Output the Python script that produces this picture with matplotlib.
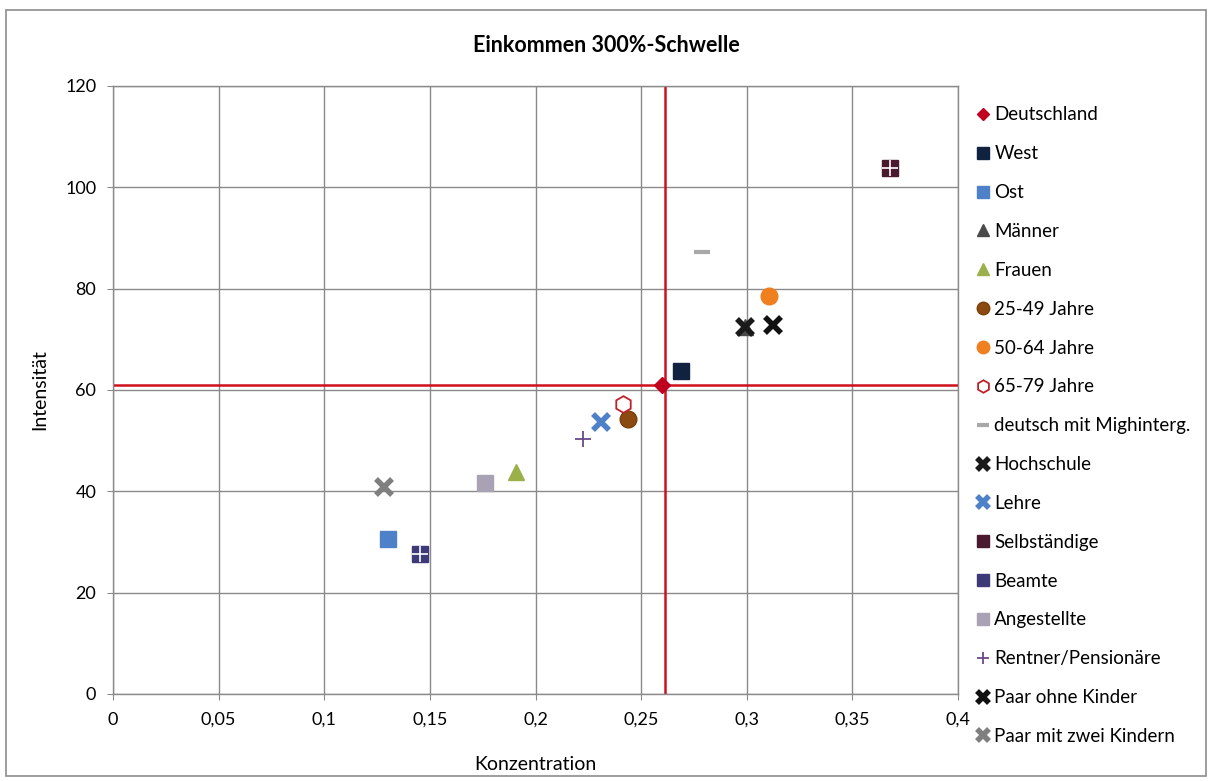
import matplotlib
matplotlib.use("Agg")
import matplotlib.pyplot as plt
from matplotlib.patches import Rectangle
from matplotlib.ticker import FixedLocator, FuncFormatter

plt.rcParams['font.family'] = ['Lato', 'DejaVu Sans']

labels = ["Deutschland", "West", "Ost", "Männer", "Frauen", "25-49 Jahre", "50-64 Jahre",
          "65-79 Jahre", "deutsch mit Mighinterg.", "Hochschule", "Lehre", "Selbständige",
          "Beamte", "Angestellte", "Rentner/Pensionäre", "Paar ohne Kinder", "Paar mit zwei Kindern"]
konzentration = [0.260, 0.269, 0.130, 0.299, 0.191, 0.244, 0.3105, 0.2415, 0.279, 0.2994,
                 0.2308, 0.3678, 0.1453, 0.1761, 0.2225, 0.3124, 0.1283]
intensitaet = [60.9, 63.7, 30.6, 72.4, 43.8, 54.2, 78.5, 57.3, 87.2, 72.4,
               53.6, 103.8, 27.7, 41.7, 50.4, 72.8, 40.9]
ref_x = 0.2615
ref_y = 60.9
x_ticks = [0, 0.05, 0.1, 0.15, 0.2, 0.25, 0.3, 0.35, 0.4]
y_ticks = [0, 20, 40, 60, 80, 100, 120]

styles = [
    dict(marker='D', color='#C0001F', ms=8, mec='#C0001F'),
    dict(marker='s', color='#10223F', ms=11, mec='#10223F'),
    dict(marker='s', color='#4F81C9', ms=11, mec='#4F81C9'),
    dict(marker='^', color='#4A4A4A', ms=11, mec='#4A4A4A'),
    dict(marker='^', color='#9BB04A', ms=11, mec='#9BB04A'),
    dict(marker='o', color='#8B4A10', ms=12, mec='#7A3E08'),
    dict(marker='o', color='#F07F20', ms=12, mec='#F07F20'),
    dict(marker='h', color='white', ms=12, mec='#C0202A', mew=1.3),
    dict(marker='_', color='#A8A8A8', ms=12, mew=3),
    dict(marker='x', color='#1A1A1A', ms=11, mew=4),
    dict(marker='x', color='#4F81C9', ms=11, mew=4),
    dict(marker='s', color='#4A1A2E', ms=12, mec='#4A1A2E'),
    dict(marker='s', color='#3E3A78', ms=12, mec='#3E3A78'),
    dict(marker='s', color='#A8A2B4', ms=12, mec='#A8A2B4'),
    dict(marker='+', color='#6A4A8A', ms=12, mew=1.3),
    dict(marker='x', color='#111111', ms=11, mew=4),
    dict(marker='x', color='#7F7F7F', ms=11, mew=4),
]

fig = plt.figure(figsize=(12.12, 7.81), dpi=100)
fig.patches.append(Rectangle((6/1212, 5/781), 1200/1212, 766/781, transform=fig.transFigure,
                             fill=False, edgecolor='#8C8C8C', lw=1.2, zorder=0))
ax = fig.add_axes([113/1212, 1 - 694/781, 845/1212, 608/781])

ax.axhline(ref_y, color='#D0101E', lw=1.8, zorder=1.5)
ax.axvline(ref_x, color='#D0101E', lw=1.8, zorder=1.5)

for i, (lab, xv, yv) in enumerate(zip(labels, konzentration, intensitaet)):
    st = dict(styles[i])
    ax.plot([xv], [yv], linestyle='none', label=lab, zorder=3 + i * 0.01, **st)
    if lab in ("Selbständige", "Beamte"):
        ax.plot([xv], [yv], linestyle='none', marker='+', color='white', ms=12, mew=1.2,
                zorder=3 + i * 0.01 + 0.005)

ax.set_xlim(0, 0.4)
ax.set_ylim(0, 120)
ax.xaxis.set_major_locator(FixedLocator(x_ticks))
ax.yaxis.set_major_locator(FixedLocator(y_ticks))
ax.xaxis.set_major_formatter(FuncFormatter(lambda v, p: ('%g' % round(v, 3)).replace('.', ',')))
ax.yaxis.set_major_formatter(FuncFormatter(lambda v, p: '%d' % v))
ax.grid(True, color='#8A8A8A', lw=1.0, zorder=0)
ax.set_axisbelow(True)
for s in ax.spines.values():
    s.set_color('#8A8A8A')
    s.set_linewidth(1.0)
ax.tick_params(axis='both', colors='#8A8A8A', labelcolor='black', labelsize=13, length=4, direction='out')
ax.tick_params(axis='x', pad=9)
ax.tick_params(axis='y', pad=8)

ax.set_xlabel("Konzentration", fontsize=14, labelpad=20)
ax.set_ylabel("Intensität", fontsize=14, labelpad=12)
fig.text(0.5, 1 - 45/781, "Einkommen 300%-Schwelle", ha='center', va='center',
         fontsize=15.5, fontweight='bold')

leg = fig.legend(loc='upper left', bbox_to_anchor=(968/1212, 1 - 99/781), frameon=False,
                 fontsize=13.5, handlelength=0.8, handletextpad=0.2, labelspacing=1.165,
                 borderaxespad=0, markerscale=0.75)

fig.savefig("out.png", dpi=100)
